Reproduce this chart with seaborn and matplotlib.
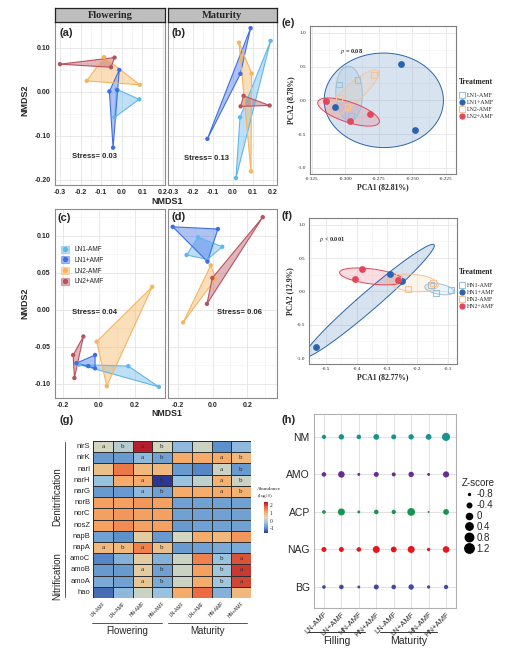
import numpy as np
import pandas as pd
import matplotlib
matplotlib.use("Agg")
import matplotlib.pyplot as plt
import seaborn as sns
from matplotlib.patches import Patch
from matplotlib.lines import Line2D
from matplotlib.colors import LinearSegmentedColormap
from matplotlib.ticker import MultipleLocator, FixedLocator, FuncFormatter
from matplotlib.transforms import blended_transform_factory

SANS = ["Liberation Sans", "DejaVu Sans"]
SERIF = ["Liberation Serif", "DejaVu Serif"]

# ---------------- data ----------------
groups = ["LN1-AMF", "LN1+AMF", "LN2-AMF", "LN2+AMF"]
nmds_colors = ["#62B6EE", "#3F6EE4", "#F6B45E", "#B9525F"]
nmds_stress = [0.03, 0.13, 0.04, 0.06]

# (a) flowering
a_grp = ["LN1-AMF"] * 3 + ["LN1+AMF"] * 4 + ["LN2-AMF"] * 3 + ["LN2+AMF"] * 3
a_x = [-0.025, 0.085, -0.035, -0.012, -0.060, -0.042, -0.022, -0.086, -0.170, 0.088, -0.300, -0.035, -0.052]
a_y = [0.006, -0.017, -0.058, 0.050, 0.001, -0.127, 0.004, 0.079, 0.025, 0.016, 0.063, 0.078, 0.056]

# (b) maturity
b_grp = ["LN1-AMF"] * 3 + ["LN1+AMF"] * 3 + ["LN2-AMF"] * 3 + ["LN2+AMF"] * 3
b_x = [0.188, 0.035, 0.015, 0.088, 0.037, -0.128, 0.030, 0.093, 0.090, 0.053, 0.038, 0.183]
b_y = [0.116, -0.058, -0.196, 0.145, 0.041, -0.107, 0.112, 0.042, -0.181, -0.009, -0.033, -0.031]

# (c)
c_grp = ["LN1-AMF"] * 3 + ["LN1+AMF"] * 4 + ["LN2-AMF"] * 3 + ["LN2+AMF"] * 3
c_x = [-0.110, 0.163, 0.333, -0.126, -0.022, -0.022, -0.060, 0.296, -0.013, 0.043, -0.087, -0.144, -0.137]
c_y = [-0.074, -0.076, -0.104, -0.072, -0.061, -0.079, -0.076, 0.031, -0.043, -0.103, -0.036, -0.061, -0.092]

# (d)
d_grp = ["LN1-AMF"] * 4 + ["LN1+AMF"] * 3 + ["LN2-AMF"] * 3 + ["LN2+AMF"] * 3
d_x = [-0.084, 0.055, -0.150, -0.030, -0.230, 0.030, -0.030, -0.011, -0.170, 0.017, 0.288, -0.033, -0.002]
d_y = [0.098, 0.085, 0.074, 0.068, 0.112, 0.109, 0.065, 0.060, -0.017, 0.042, 0.125, 0.008, 0.043]

# (e) PCA, LN
pca_colors = ["#9DC3DB", "#2A64AE", "#F6C49A", "#E2475A"]
e_names = ["LN1-AMF", "LN1+AMF", "LN2-AMF", "LN2+AMF"]
e_grp = [n for n in e_names for _ in range(3)]
e_x = [-0.305, -0.291, -0.296, -0.2586, -0.2480, -0.3076, -0.2790, -0.2985, -0.3050, -0.3148, -0.2964, -0.2820]
e_y = [0.235, 0.300, -0.230, 0.540, -0.446, -0.093, 0.380, -0.100, 0.040, -0.015, -0.310, -0.195]
e_p = "p = 0.08"
e_var = [82.81, 8.78]

# (f) PCA, HN
f_names = ["HN1-AMF", "HN1+AMF", "HN2-AMF", "HN2+AMF"]
f_grp = [n for n in f_names for _ in range(3)]
f_x = [-0.155, -0.140, -0.090, -0.534, -0.290, -0.252, -0.262, -0.232, -0.148, -0.383, -0.404, -0.265]
f_y = [0.100, -0.020, 0.020, -0.840, 0.260, 0.150, 0.220, 0.030, 0.130, 0.328, 0.179, 0.164]
f_p = "p < 0.001"
f_var = [82.77, 12.9]

# (g) heatmap
genes = ["nirS", "nirK", "narI", "narH", "narG", "norB", "norC", "nosZ", "napB", "napA",
         "amoC", "amoB", "amoA", "hao"]
treat = ["LN-AMF", "LN+AMF", "HN-AMF", "HN+AMF"] * 2
g_stages = ["Flowering", "Maturity"]
gene_abund = [
    [0.3, 0.0, 2.3, 0.3, -0.4, 0.2, -0.9, -0.4],
    [-0.8, -0.8, -0.4, -0.7, 1.1, 1.1, 1.1, 0.9],
    [0.8, 1.6, 0.9, 0.9, -0.8, -1.0, 0.2, -0.8],
    [-0.3, 1.1, 1.1, -1.6, -0.3, 0.1, 1.0, 0.2],
    [-0.8, -0.8, -0.4, -0.7, 1.1, 1.1, 1.1, 1.0],
    [1.2, 1.2, 1.3, 1.2, -0.7, -0.7, -0.7, -0.7],
    [1.2, 1.3, 1.2, 1.2, -0.7, -0.7, -0.7, -0.7],
    [1.2, 1.4, 1.2, 1.2, -0.8, -0.7, -0.7, -0.7],
    [-0.7, -0.9, 0.6, -0.8, 0.3, 1.1, 0.9, 1.3],
    [0.9, 0.9, 1.5, 0.8, -0.8, -0.7, -0.6, -0.6],
    [-1.0, -0.5, 0.6, -0.5, 0.2, 1.5, -0.3, 1.9],
    [-0.8, -0.8, 0.6, -0.7, 0.2, 1.2, -0.2, 2.1],
    [-0.6, -0.7, 0.7, -0.6, 0.2, 1.1, -0.2, 2.0],
    [-1.2, -0.4, 0.2, -0.3, 1.1, 1.7, -0.5, 0.9],
]
gene_letters = [
    ["a", "b", "a", "b", "", "", "", ""],
    ["", "", "a", "b", "", "", "a", "b"],
    ["", "", "", "", "", "", "a", "b"],
    ["", "", "a", "b", "", "", "a", "b"],
    ["", "", "a", "b", "", "", "a", "b"],
    [""] * 8,
    [""] * 8,
    [""] * 8,
    [""] * 8,
    ["a", "b", "a", "b", "", "", "", ""],
    ["", "", "", "", "", "", "b", "a"],
    ["", "", "a", "b", "", "", "b", "a"],
    ["", "", "a", "b", "", "", "b", "a"],
    [""] * 8,
]
heat_colors = ["#2C3795", "#5B8FCB", "#9CC4E0", "#DDD8B8", "#F6AE6B", "#EB6A3E", "#AE1229"]

# (h) enzyme z-scores (bottom to top)
enzymes = ["BG", "NAG", "ACP", "AMO", "NM"]
enzyme_colors = ["#3F4C9C", "#E8161C", "#15964F", "#6A2C8E", "#16958B"]
h_stages = ["Filling", "Maturity"]
z_BG = [-0.57, -0.40, -0.69, -0.30, -0.40, -0.20, -0.63, -0.46]
z_NAG = [-0.30, -0.30, -0.40, 0.27, -0.10, 0.27, -0.63, 0.13]
z_ACP = [-0.57, 0.27, -0.69, -0.40, -0.46, 0.53, -0.80, -0.10]
z_AMO = [-0.40, 0.13, -0.69, -0.30, -0.51, -0.20, -0.69, 0.00]
z_NM = [-0.46, -0.20, -0.40, -0.10, -0.30, -0.20, -0.10, 0.67]
z_legend = [-0.8, -0.4, 0, 0.4, 0.8, 1.2]


# ---------------- helpers ----------------
def hull(xs, ys):
    pts = sorted(set(zip(xs, ys)))
    if len(pts) < 3:
        return [p[0] for p in pts], [p[1] for p in pts]

    def cross(o, a, b):
        return (a[0] - o[0]) * (b[1] - o[1]) - (a[1] - o[1]) * (b[0] - o[0])

    lower, upper = [], []
    for p in pts:
        while len(lower) >= 2 and cross(lower[-2], lower[-1], p) <= 0:
            lower.pop()
        lower.append(p)
    for p in reversed(pts):
        while len(upper) >= 2 and cross(upper[-2], upper[-1], p) <= 0:
            upper.pop()
        upper.append(p)
    h = lower[:-1] + upper[:-1]
    return [p[0] for p in h], [p[1] for p in h]


def ellipse(xs, ys, r=1.4, n=120):
    cov = np.cov(xs, ys)
    vals, vecs = np.linalg.eigh(cov)
    t = np.linspace(0, 2 * np.pi, n)
    circ = np.vstack([np.cos(t), np.sin(t)])
    pts = vecs @ (np.sqrt(np.clip(vals, 0, None))[:, None] * circ) * r
    return np.mean(xs) + pts[0], np.mean(ys) + pts[1]


def fmt(decimals):
    return FuncFormatter(lambda v, _: f"{round(v, 4) + 0.0:.{decimals}f}")


def fr(l, t, r, b):
    return [l / 511, 1 - b / 655, (r - l) / 511, (b - t) / 655]


def nmds_panel(ax, xs, ys, grp, xlim, ylim, xstep, ystep, stress, sxy, show_y):
    pal = dict(zip(groups, nmds_colors))
    df = pd.DataFrame({"NMDS1": xs, "NMDS2": ys, "group": grp})
    for g in groups:
        sub = df[df["group"] == g]
        hx, hy = hull(sub["NMDS1"].values, sub["NMDS2"].values)
        ax.fill(hx, hy, color=pal[g], alpha=0.42, lw=0, zorder=2)
        ax.fill(hx, hy, fc="none", ec=pal[g], lw=0.8, zorder=2.5)
    sns.scatterplot(data=df, x="NMDS1", y="NMDS2", hue="group", hue_order=groups,
                    palette=pal, s=10, edgecolor="none", legend=False, ax=ax, zorder=3)
    ax.set_xlim(xlim)
    ax.set_ylim(ylim)
    ax.xaxis.set_major_locator(MultipleLocator(xstep))
    ax.xaxis.set_minor_locator(MultipleLocator(xstep / 2))
    ax.yaxis.set_major_locator(MultipleLocator(ystep))
    ax.yaxis.set_minor_locator(MultipleLocator(ystep / 2))
    ax.xaxis.set_major_formatter(fmt(1))
    ax.yaxis.set_major_formatter(fmt(2))
    ax.grid(which="major", color="#E4E4E4", lw=0.6)
    ax.grid(which="minor", color="#F1F1F1", lw=0.4)
    ax.set_axisbelow(True)
    ax.set_xlabel("")
    ax.set_ylabel("")
    for sp in ax.spines.values():
        sp.set_color("#8C8C8C")
        sp.set_linewidth(0.8)
    ax.tick_params(which="major", labelsize=5, length=2, width=0.5, color="#444444", pad=1)
    ax.tick_params(which="minor", length=0)
    for lab in ax.get_xticklabels() + ax.get_yticklabels():
        lab.set_fontweight("bold")
    if not show_y:
        ax.tick_params(axis="y", labelleft=False, length=0)
    ax.text(sxy[0], sxy[1], f"Stress= {stress:.2f}", fontsize=5.5, fontweight="bold",
            ha="center", va="center", zorder=4)


def pca_panel(ax, xs, ys, grp, names, xlim, xticks, xdec, ptxt, pxy, var, leg_top):
    df = pd.DataFrame({"PC1": xs, "PC2": ys, "group": grp})
    for i, g in enumerate(names):
        sub = df[df["group"] == g]
        ex, ey = ellipse(sub["PC1"].values, sub["PC2"].values)
        ax.fill(ex, ey, color=pca_colors[i], alpha=0.18, lw=0, zorder=2)
        ax.plot(ex, ey, color=pca_colors[i], lw=0.7, zorder=2.5)
    handles = []
    for i, g in enumerate(names):
        sub = df[df["group"] == g]
        col = pca_colors[i]
        is_open = "-" in g
        sns.scatterplot(data=sub, x="PC1", y="PC2", color=col,
                        marker="s" if is_open else "o",
                        facecolor="none" if is_open else col, edgecolor=col,
                        linewidth=0.8 if is_open else 0, s=18 if is_open else 24,
                        legend=False, ax=ax, zorder=3)
        handles.append(Line2D([], [], ls="", marker="s" if is_open else "o",
                              mfc="none" if is_open else col, mec=col,
                              mew=0.8 if is_open else 0, ms=4 if is_open else 4.5))
    ax.set_xlim(xlim)
    ax.set_ylim(-1.09, 1.1)
    ax.xaxis.set_major_locator(FixedLocator(xticks))
    step = xticks[1] - xticks[0]
    ax.xaxis.set_minor_locator(FixedLocator([v + step / 2 for v in [xticks[0] - step] + xticks]))
    ax.yaxis.set_major_locator(MultipleLocator(0.5))
    ax.yaxis.set_minor_locator(MultipleLocator(0.25))
    ax.xaxis.set_major_formatter(fmt(xdec))
    ax.yaxis.set_major_formatter(fmt(1))
    ax.grid(which="major", color="#E6E6E6", lw=0.6)
    ax.grid(which="minor", color="#F2F2F2", lw=0.4)
    ax.set_axisbelow(True)
    for sp in ax.spines.values():
        sp.set_color("#7F7F7F")
        sp.set_linewidth(0.8)
    ax.tick_params(which="major", labelsize=3.8, length=1.5, width=0.4, color="#555555", pad=1)
    ax.tick_params(which="minor", length=0)
    for lab in ax.get_xticklabels() + ax.get_yticklabels():
        lab.set_fontfamily(SERIF)
    ax.set_xlabel(f"PCA1 ({var[0]}%)", fontsize=5.5, fontweight="bold", family=SERIF, labelpad=1)
    ax.set_ylabel(f"PCA2 ({var[1]}%)", fontsize=5.5, fontweight="bold", family=SERIF, labelpad=2)
    pt = ptxt.split(" ", 1)
    ax.text(pxy[0], pxy[1], "$\\it{p}$ " + pt[1], fontsize=4.5, fontweight="bold",
            family=SERIF, ha="center", va="center")
    leg = ax.legend(handles, names, title="Treatment", loc="upper left",
                    bbox_to_anchor=(459 / 511, 1 - leg_top / 655),
                    bbox_transform=ax.figure.transFigure, frameon=False,
                    prop={"family": SERIF, "size": 4.3},
                    title_fontproperties={"family": SERIF, "weight": "bold", "size": 5.5},
                    labelspacing=0.3, handletextpad=0.4, handlelength=0.9,
                    borderaxespad=0, borderpad=0, alignment="left")
    leg._legend_box.sep = 5


# ---------------- figure ----------------
sns.set_style("white")
plt.rcParams["font.family"] = SANS
plt.rcParams["axes.unicode_minus"] = False
plt.rcParams["mathtext.fontset"] = "stix"

fig = plt.figure(figsize=(5.11, 6.55), dpi=100)

ax_a = fig.add_axes(fr(55, 22, 165, 185))
ax_b = fig.add_axes(fr(168, 22, 277, 185))
ax_c = fig.add_axes(fr(55, 209, 165, 398))
ax_d = fig.add_axes(fr(168, 209, 277, 398))

ylim_ab = (-0.212, 0.159)
nmds_panel(ax_a, a_x, a_y, a_grp, (-0.324, 0.21), ylim_ab, 0.1, 0.1, nmds_stress[0], (-0.13, -0.148), True)
nmds_panel(ax_b, b_x, b_y, b_grp, (-0.325, 0.22), ylim_ab, 0.1, 0.1, nmds_stress[1], (-0.135, -0.151), False)
ylim_cd = (-0.119, 0.136)
nmds_panel(ax_c, c_x, c_y, c_grp, (-0.245, 0.367), ylim_cd, 0.2, 0.05, nmds_stress[2], (-0.028, -0.004), True)
nmds_panel(ax_d, d_x, d_y, d_grp, (-0.257, 0.37), ylim_cd, 0.2, 0.05, nmds_stress[3], (0.154, -0.004), False)

# facet strips
for (l, r), stage in zip([(55, 165), (168, 277)], g_stages):
    sax = fig.add_axes(fr(l, 8, r, 22))
    sax.set_facecolor("#BEBEBE")
    sax.set_xticks([])
    sax.set_yticks([])
    for sp in sax.spines.values():
        sp.set_color("#222222")
        sp.set_linewidth(0.9)
    sax.text(0.5, 0.45, stage, ha="center", va="center", fontsize=7.5,
             fontweight="bold", family=SERIF, transform=sax.transAxes)

# legend in (c)
leg_handles = [(Patch(fc=c, ec=c, alpha=0.45, lw=0.8),
                Line2D([], [], ls="", marker="o", color=c, ms=2.8)) for c in nmds_colors]
ax_c.legend(leg_handles, groups, loc="upper left", bbox_to_anchor=(0.03, 0.82),
            frameon=False, fontsize=4.7, handlelength=1.3, handleheight=1.3,
            labelspacing=0.45, handletextpad=0.8, borderaxespad=0)

fig.text(167 / 511, 1 - 202 / 655, "NMDS1", ha="center", va="center", fontsize=6.5, fontweight="bold")
fig.text(167 / 511, 1 - 414 / 655, "NMDS1", ha="center", va="center", fontsize=6.3, fontweight="bold")
fig.text(25 / 511, 1 - 100 / 655, "NMDS2", ha="center", va="center", rotation=90, fontsize=6.5, fontweight="bold")
fig.text(25 / 511, 1 - 303 / 655, "NMDS2", ha="center", va="center", rotation=90, fontsize=6.5, fontweight="bold")

# PCA panels
ax_e = fig.add_axes(fr(310, 26, 456, 174))
pca_panel(ax_e, e_x, e_y, e_grp, e_names, (-0.3265, -0.2175),
          [-0.325, -0.3, -0.275, -0.25, -0.225], 3, e_p, (-0.2954, 0.725), e_var, 78)
ax_f = fig.add_axes(fr(309, 218, 457, 364))
pca_panel(ax_f, f_x, f_y, f_grp, f_names, (-0.556, -0.07),
          [-0.5, -0.4, -0.3, -0.2, -0.1], 1, f_p, (-0.48, 0.78), f_var, 268)

# heatmap
ax_g = fig.add_axes(fr(93, 441, 251, 598))
cax = fig.add_axes(fr(264, 502, 268, 533))
hm = pd.DataFrame(gene_abund, index=genes)
heat_cmap = LinearSegmentedColormap.from_list("abund", heat_colors)
sns.heatmap(hm, ax=ax_g, cmap=heat_cmap, vmin=-1.6, vmax=2.4, linewidths=0.5,
            linecolor="#2E2E2E", annot=np.array(gene_letters), fmt="",
            annot_kws={"fontsize": 5, "family": SERIF, "color": "#2B2B2B"},
            cbar_ax=cax, cbar_kws={"ticks": [-1, 0, 1, 2]},
            xticklabels=treat, yticklabels=genes)
ax_g.tick_params(length=0, pad=2)
ax_g.set_yticklabels(genes, rotation=0, fontsize=5.5)
ax_g.set_xticklabels(treat, rotation=45, ha="right", rotation_mode="anchor", fontsize=3.6)
ax_g.set_xlabel("")
ax_g.set_ylabel("")
cax.tick_params(length=0, labelsize=4, pad=1)
for lab in cax.get_yticklabels():
    lab.set_fontfamily(SERIF)
ax_g.collections[0].colorbar.outline.set_visible(False)
fig.text(257 / 511, 1 - 487 / 655, "Abundance\n(log$_{10}$)", fontsize=3.8, family=SERIF,
         va="top", ha="left", linespacing=1.1)

tg = blended_transform_factory(ax_g.transAxes, ax_g.transData)
ax_g.plot([-0.177, -0.177], [0.05, 9.95], transform=tg, clip_on=False, color="#555555", lw=0.7)
ax_g.plot([-0.177, -0.177], [10.1, 13.95], transform=tg, clip_on=False, color="#555555", lw=0.7)
ax_g.text(-0.225, 5, "Denitrification", rotation=90, ha="center", va="center", transform=tg, fontsize=7)
ax_g.text(-0.225, 12, "Nitrification", rotation=90, ha="center", va="center", transform=tg, fontsize=7)
tgx = blended_transform_factory(ax_g.transData, ax_g.transAxes)
for (x0, x1), stage in zip([(-0.05, 3.5), (3.8, 7.8)], g_stages):
    ax_g.plot([x0, x1], [-0.16, -0.16], transform=tgx, clip_on=False, color="#555555", lw=0.7)
    ax_g.text((x0 + x1) / 2, -0.18, stage, ha="center", va="top", transform=tgx, fontsize=7)

# dot plot (h)
ax_h = fig.add_axes(fr(314, 414, 456, 608))
z_rows = [z_BG, z_NAG, z_ACP, z_AMO, z_NM]
dot = pd.DataFrame({
    "enzyme": np.repeat(enzymes, len(treat)),
    "pos": np.tile(np.arange(len(treat)), len(enzymes)),
    "z": np.concatenate(z_rows),
})
size_range = (2, 46)
size_norm = (-0.8, 1.2)
sns.scatterplot(data=dot, x="pos", y="enzyme", hue="enzyme", palette=dict(zip(enzymes, enzyme_colors)),
                size="z", sizes=size_range, size_norm=size_norm, edgecolor="none",
                legend=False, ax=ax_h, zorder=3)
ax_h.set_xlim(-0.57, 7.57)
ax_h.set_ylim(-0.56, 4.61)
ax_h.set_xticks(np.arange(len(treat)))
ax_h.set_xticklabels(treat, rotation=45, ha="right", rotation_mode="anchor", fontsize=5.5)
ax_h.tick_params(axis="y", labelsize=7.5, length=0, pad=3)
ax_h.tick_params(axis="x", length=0, pad=2)
ax_h.grid(True, color="#E2E2E2", lw=0.7)
ax_h.set_axisbelow(True)
ax_h.set_xlabel("")
ax_h.set_ylabel("")
for sp in ax_h.spines.values():
    sp.set_color("#B0B0B0")
    sp.set_linewidth(0.8)

th = blended_transform_factory(ax_h.transData, ax_h.transAxes)
for (x0, x1), stage in zip([(-0.92, 2.35), (3.21, 6.48)], h_stages):
    ax_h.plot([x0, x1], [-0.125, -0.125], transform=th, clip_on=False, color="#333333", lw=0.7)
    ax_h.text((x0 + x1) / 2, -0.145, stage, ha="center", va="top", transform=th, fontsize=7.5)


def z_to_ms(z):
    s = size_range[0] + (z - size_norm[0]) / (size_norm[1] - size_norm[0]) * (size_range[1] - size_range[0])
    return np.sqrt(s)


z_handles = [Line2D([], [], ls="", marker="o", color="black", ms=z_to_ms(z)) for z in z_legend]
ax_h.legend(z_handles, [f"{z:g}" for z in z_legend], title="Z-score", loc="upper left",
            bbox_to_anchor=(462 / 511, 1 - 478 / 655), bbox_transform=fig.transFigure,
            frameon=False, fontsize=7, title_fontsize=7, labelspacing=0.1,
            handletextpad=0.3, handlelength=1.0, borderaxespad=0, borderpad=0)

# panel labels
for lab, (px, py) in zip(["(a)", "(b)", "(c)", "(d)", "(e)", "(f)", "(g)", "(h)"],
                         [(59, 33), (172, 33), (58, 218), (171, 217), (281, 23), (281, 216),
                          (60, 420), (282, 420)]):
    fig.text(px / 511, 1 - py / 655, lab, fontsize=8, fontweight="bold", va="center", ha="left")

fig.savefig("out.png", dpi=100)
